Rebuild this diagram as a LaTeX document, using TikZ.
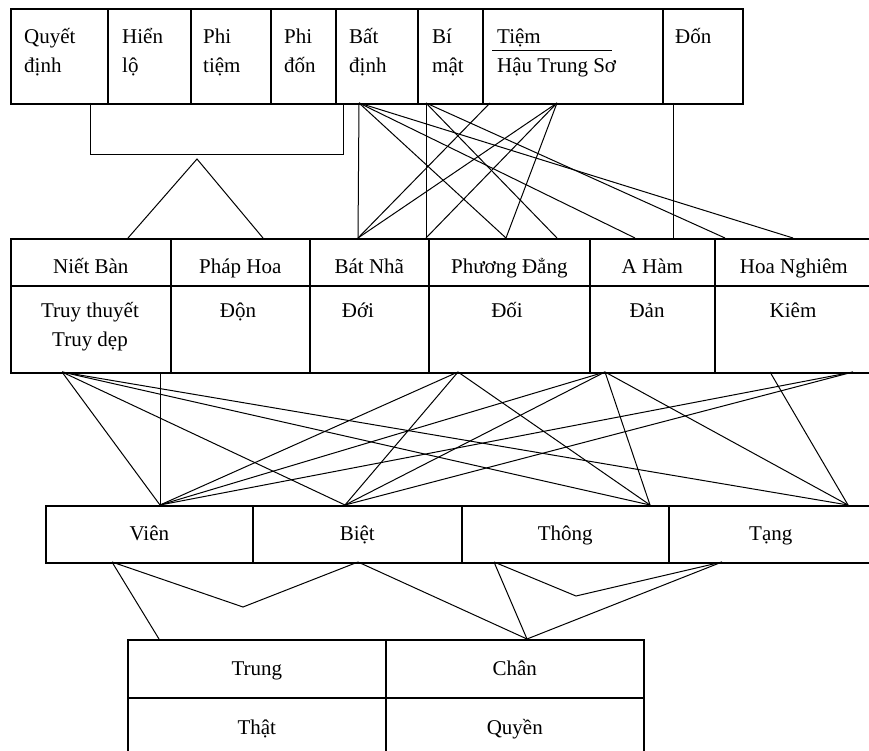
\documentclass[tikz,border=0pt]{standalone}
\usepackage{fontspec}
\setmainfont{Liberation Serif}
\begin{document}
\begin{tikzpicture}[x=1pt, y=-1pt,
    every node/.style={font=\fontsize{21}{29}\selectfont, inner sep=0pt},
    box/.style={draw, line width=1.6pt, anchor=north west, text height=15pt, text depth=2pt},
    head/.style={box, text height=24pt},
    txt/.style={anchor=base west, align=left},
    txtc/.style={anchor=base, align=center},
    link/.style={line width=1pt}]
    \useasboundingbox (0,0) rectangle (869,751);

    \node[box, minimum width=97pt, minimum height=95pt] (quyet)  at ( 10, 8) {};
    \node[box, minimum width=83pt, minimum height=95pt] (hien)   at (107, 8) {};
    \node[box, minimum width=80pt, minimum height=95pt] (phitiem) at (190, 8) {};
    \node[box, minimum width=65pt, minimum height=95pt] (phidon) at (270, 8) {};
    \node[box, minimum width=82pt, minimum height=95pt] (batdinh) at (335, 8) {};
    \node[box, minimum width=65pt, minimum height=95pt] (bimat)  at (417, 8) {};
    \node[box, minimum width=180pt, minimum height=95pt] (tiem)  at (482, 8) {};
    \node[box, minimum width=80pt, minimum height=95pt] (don)    at (662, 8) {};

    \node[txt] (tquyet)  at ( 24,73) {Quyết\\định};
    \node[txt] (thien)   at (122,73) {Hiển\\lộ};
    \node[txt] (tphitiem) at (203,73) {Phi\\tiệm};
    \node[txt] (tphidon) at (284,73) {Phi\\đốn};
    \node[txt] (tbatdinh) at (349,73) {Bất\\định};
    \node[txt] (tbimat)  at (432,73) {Bí\\mật};
    \node[txt] (ttiem)   at (497,73) {Tiệm\\Hậu Trung Sơ};
    \node[txt] (tdon)    at (675,44) {Đốn};
    \draw[link] (492,51) -- (612,51);

    \node[head, minimum width=160pt, minimum height=47pt] (nietban)    at ( 10,238) {Niết Bàn};
    \node[head, minimum width=139pt, minimum height=47pt] (phaphoa)    at (170,238) {Pháp Hoa};
    \node[head, minimum width=119pt, minimum height=47pt] (batnha)     at (309,238) {Bát Nhã};
    \node[head, minimum width=161pt, minimum height=47pt] (phuongdang) at (428,238) {Phương Đẳng};
    \node[head, minimum width=125pt, minimum height=47pt] (aham)       at (589,238) {A Hàm};
    \node[head, minimum width=158pt, minimum height=47pt] (hoanghiem)  at (714,238) {Hoa Nghiêm};
    \node[box, minimum width=160pt, minimum height=87pt] (nietban2)    at ( 10,285) {};
    \node[box, minimum width=139pt, minimum height=87pt] (phaphoa2)    at (170,285) {};
    \node[box, minimum width=119pt, minimum height=87pt] (batnha2)     at (309,285) {};
    \node[box, minimum width=161pt, minimum height=87pt] (phuongdang2) at (428,285) {};
    \node[box, minimum width=125pt, minimum height=87pt] (aham2)       at (589,285) {};
    \node[box, minimum width=158pt, minimum height=87pt] (hoanghiem2)  at (714,285) {};

    \node[txtc] (truy) at ( 90,346) {Truy thuyết\\Truy dẹp};
    \node[txtc] (don2) at (238,317) {Độn};
    \node[txtc] (doi1) at (358,317) {Đới};
    \node[txtc] (doi2) at (507,317) {Đối};
    \node[txtc] (dan)  at (647,317) {Đản};
    \node[txtc] (kiem) at (793,317) {Kiêm};

    \node[box, minimum width=207pt, minimum height=57pt] (vien)  at ( 45,505) {Viên};
    \node[box, minimum width=209pt, minimum height=57pt] (biet)  at (252,505) {Biệt};
    \node[box, minimum width=207pt, minimum height=57pt] (thong) at (461,505) {Thông};
    \node[box, minimum width=204pt, minimum height=57pt] (tang)  at (668,505) {Tạng};

    \node[box, minimum width=258pt, minimum height=58pt] (trung) at (127,639) {Trung};
    \node[box, minimum width=258pt, minimum height=58pt] (chan)  at (385,639) {Chân};
    \node[box, minimum width=258pt, minimum height=60pt] (that)  at (127,697) {Thật};
    \node[box, minimum width=258pt, minimum height=60pt] (quyen) at (385,697) {Quyền};

    \coordinate (brl) at ( 90,103);
    \coordinate (brr) at (343,103);
    \coordinate (apex) at (197,159);
    \coordinate (ft1) at (128,238);
    \coordinate (ft2) at (263,238);
    \coordinate (bd)  at (359,103);
    \coordinate (bm)  at (426,103);
    \coordinate (ti1) at (490,103);
    \coordinate (ti2) at (557,103);
    \coordinate (dn)  at (673,103);
    \coordinate (bn1) at (358,238);
    \coordinate (bn2) at (426,238);
    \coordinate (pd1) at (506,238);
    \coordinate (pd2) at (557,238);
    \coordinate (ah1) at (635,238);
    \coordinate (ah2) at (673,238);
    \coordinate (hn1) at (725,238);
    \coordinate (hn2) at (793,238);

    \draw[link] (brl) -- ++(0,52) -| (brr);
    \draw[link] (ft1) -- (apex) -- (ft2);
    \draw[link] (bd) -- (bn1);
    \draw[link] (bd) -- (pd1);
    \draw[link] (bd) -- (ah1);
    \draw[link] (bd) -- (hn2);
    \draw[link] (bm) -- (bn2);
    \draw[link] (bm) -- (pd2);
    \draw[link] (bm) -- (hn1);
    \draw[link] (ti1) -- (bn1);
    \draw[link] (ti2) -- (bn1);
    \draw[link] (ti2) -- (bn2);
    \draw[link] (ti2) -- (pd1);
    \draw[link] (dn) -- (ah2);

    \coordinate (nb) at ( 62,372);
    \coordinate (ph) at (160,372);
    \coordinate (pd3) at (458,372);
    \coordinate (ah3) at (605,372);
    \coordinate (hn3) at (770,372);
    \coordinate (hn4) at (853,372);
    \coordinate (vi) at (160,505);
    \coordinate (bi) at (345,505);
    \coordinate (th) at (650,505);
    \coordinate (ta) at (848,505);

    \draw[link] (nb) -- (vi);
    \draw[link] (nb) -- (bi);
    \draw[link] (nb) -- (th);
    \draw[link] (nb) -- (ta);
    \draw[link] (ph) -- (vi);
    \draw[link] (pd3) -- (vi);
    \draw[link] (pd3) -- (bi);
    \draw[link] (pd3) -- (th);
    \draw[link] (ah3) -- (vi);
    \draw[link] (ah3) -- (bi);
    \draw[link] (ah3) -- (th);
    \draw[link] (ah3) -- (ta);
    \draw[link] (hn3) -- (ta);
    \draw[link] (hn4) -- (vi);
    \draw[link] (hn4) -- (bi);

    \coordinate (vi2) at (112,562);
    \coordinate (bi2) at (358,562);
    \coordinate (th2) at (494,562);
    \coordinate (ta2) at (722,562);
    \coordinate (dip1) at (243,607);
    \coordinate (dip2) at (576,596);
    \coordinate (tr) at (159,639);
    \coordinate (ch) at (527,639);

    \draw[link] (vi2) -- (dip1) -- (bi2);
    \draw[link] (vi2) -- (tr);
    \draw[link] (bi2) -- (ch);
    \draw[link] (th2) -- (dip2) -- (ta2);
    \draw[link] (th2) -- (ch);
    \draw[link] (ta2) -- (ch);

  \end{tikzpicture}
\end{document}
